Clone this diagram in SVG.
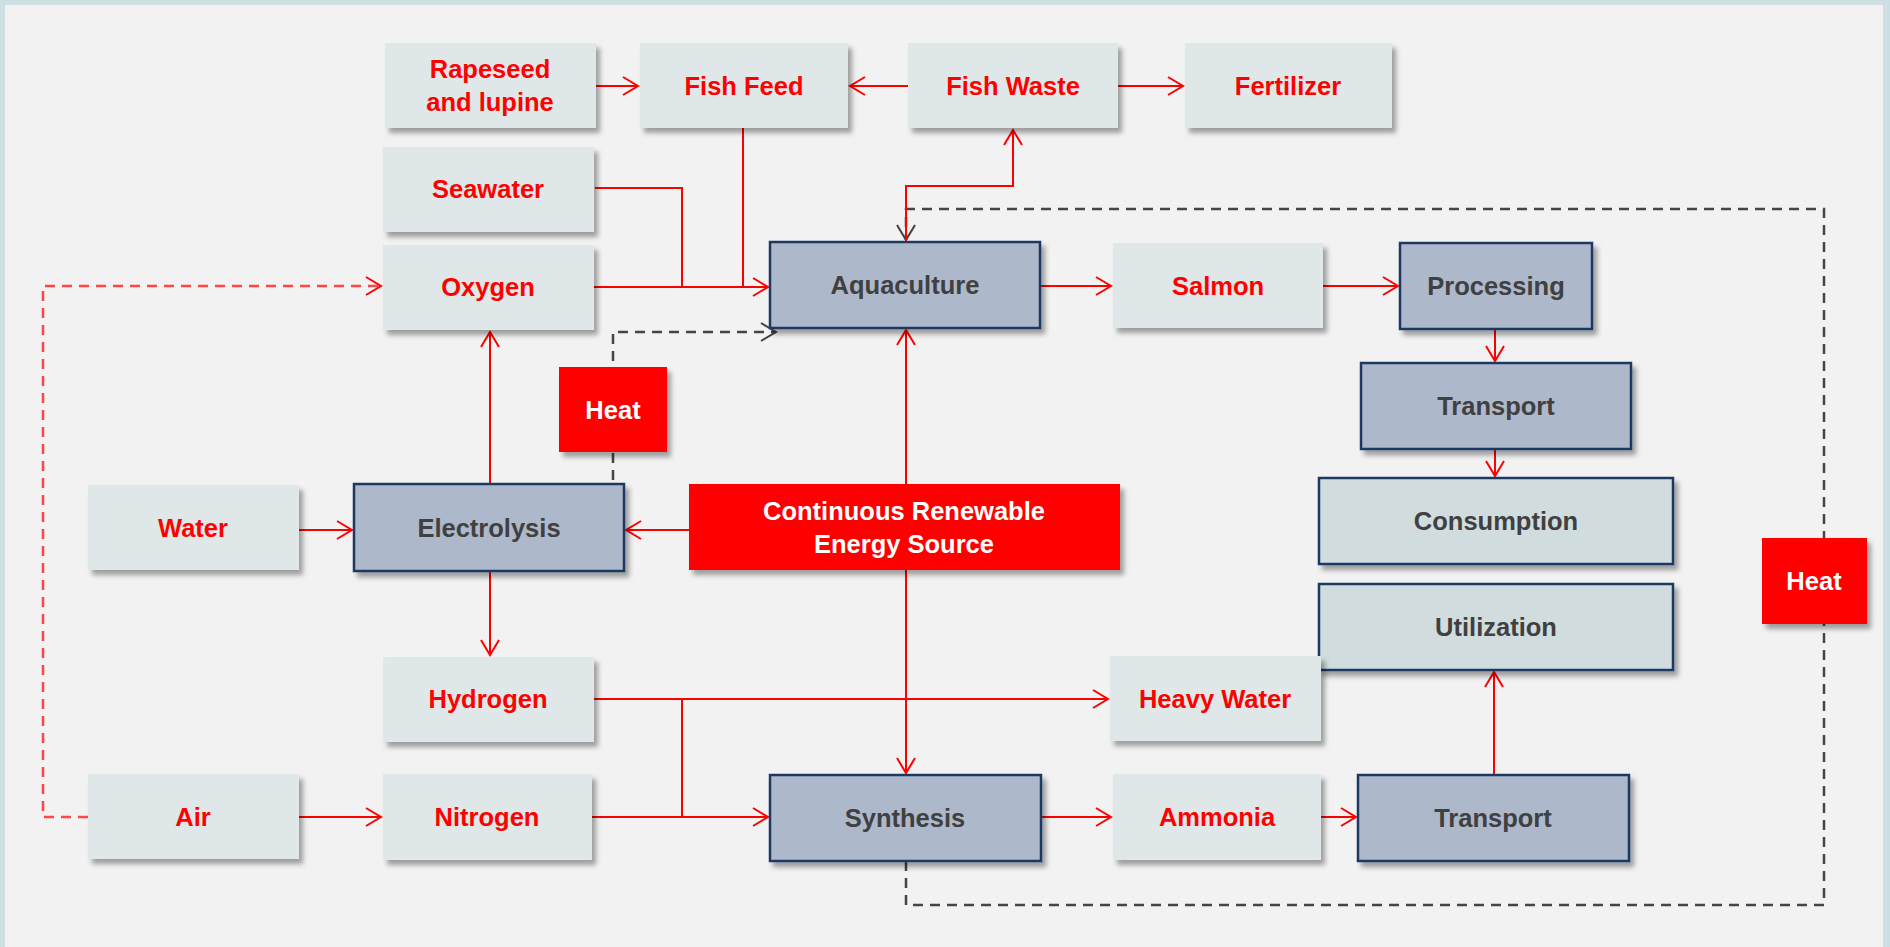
<svg xmlns="http://www.w3.org/2000/svg" width="1890" height="947" viewBox="0 0 1890 947">
<defs>
<style>
.bg{fill:#f2f2f2}
.band{fill:#cddfe2}
.lt{fill:#dfe7e8;filter:url(#sh)}
.dk{fill:#adb8cb;stroke:#1f3864;stroke-width:2.5;filter:url(#sh)}
.md{fill:#d1dcdf;stroke:#1f3864;stroke-width:2.5;filter:url(#sh)}
.rd{fill:#ff0000;filter:url(#sh)}
text{font-family:"Liberation Sans",Arial,sans-serif;font-weight:bold;font-size:25.5px;text-anchor:middle}
.tr{fill:#ff0000}
.td{fill:#404040}
.tw{fill:#ffffff}
.c{fill:none;stroke:#ff0000;stroke-width:2}
.ca{fill:none;stroke:#ff0000;stroke-width:2;marker-end:url(#ar)}
.rdash{fill:none;stroke:#ff4545;stroke-width:2.5;stroke-dasharray:10,7;marker-end:url(#ar)}
.kdash{fill:none;stroke:#454545;stroke-width:2.5;stroke-dasharray:10,7}
</style>
<filter id="sh" x="-10%" y="-10%" width="125%" height="135%">
<feDropShadow dx="4" dy="5" stdDeviation="2.5" flood-color="#000" flood-opacity="0.35"/>
</filter>
<marker id="ar" markerUnits="userSpaceOnUse" viewBox="-17 -11 19 22" refX="0" refY="0" markerWidth="19" markerHeight="22" orient="auto">
<path d="M-15,-9 L0,0 L-15,9" fill="none" stroke="#ff0000" stroke-width="2"/>
</marker>
<marker id="ak" markerUnits="userSpaceOnUse" viewBox="-17 -11 19 22" refX="0" refY="0" markerWidth="19" markerHeight="22" orient="auto">
<path d="M-15,-9 L0,0 L-15,9" fill="none" stroke="#404040" stroke-width="2"/>
</marker>
</defs>
<rect class="bg" x="0" y="0" width="1890" height="947"/>
<rect class="band" x="0" y="0" width="1890" height="5"/>
<rect class="band" x="0" y="0" width="5" height="947"/>
<rect class="band" x="1883" y="0" width="7" height="947"/>

<g id="connectors">
<path class="rdash" d="M88,817 H43 V286 H381"/>
<path class="kdash" d="M533,485 H613 V332 H776" marker-end="url(#ak)"/>
<path class="kdash" d="M906,861 V905 H1824 V209 H906 V240" marker-end="url(#ak)"/>
<path class="ca" d="M596,86 H638"/>
<path class="ca" d="M908,86 H850"/>
<path class="ca" d="M1118,86 H1183"/>
<path class="c" d="M595,188 H682 V287"/>
<path class="c" d="M743,128 V287"/>
<path class="ca" d="M594,287 H768"/>
<path class="ca" d="M906,242 V186 H1013 V130"/>
<path class="ca" d="M1040,286 H1111"/>
<path class="ca" d="M1323,286 H1398"/>
<path class="ca" d="M1495,329 V361"/>
<path class="ca" d="M1495,449 V476"/>
<path class="ca" d="M906,484 V330"/>
<path class="ca" d="M689,530 H626"/>
<path class="ca" d="M906,570 V773"/>
<path class="ca" d="M299,530 H352"/>
<path class="ca" d="M490,484 V332"/>
<path class="ca" d="M490,572 V655"/>
<path class="ca" d="M594,699 H1108"/>
<path class="c" d="M682,699 V817"/>
<path class="ca" d="M592,817 H768"/>
<path class="ca" d="M299,817 H381"/>
<path class="ca" d="M1041,817 H1111"/>
<path class="ca" d="M1321,817 H1356"/>
<path class="ca" d="M1494,775 V672"/>
</g>

<g id="rapeseed"><rect class="lt" x="385" y="43" width="211" height="85"/><text class="tr" x="490" y="78">Rapeseed</text><text class="tr" x="490" y="111">and lupine</text></g>
<g id="fishfeed"><rect class="lt" x="640" y="43" width="208" height="85"/><text class="tr" x="744" y="95">Fish Feed</text></g>
<g id="fishwaste"><rect class="lt" x="908" y="43" width="210" height="85"/><text class="tr" x="1013" y="95">Fish Waste</text></g>
<g id="fertilizer"><rect class="lt" x="1185" y="43" width="207" height="85"/><text class="tr" x="1288" y="95">Fertilizer</text></g>
<g id="seawater"><rect class="lt" x="383" y="147" width="211" height="85"/><text class="tr" x="488" y="198">Seawater</text></g>
<g id="oxygen"><rect class="lt" x="383" y="245" width="211" height="85"/><text class="tr" x="488" y="296">Oxygen</text></g>
<g id="aquaculture"><rect class="dk" x="770" y="242" width="270" height="86"/><text class="td" x="905" y="294">Aquaculture</text></g>
<g id="salmon"><rect class="lt" x="1113" y="243" width="210" height="85"/><text class="tr" x="1218" y="295">Salmon</text></g>
<g id="processing"><rect class="dk" x="1400" y="243" width="192" height="86"/><text class="td" x="1496" y="295">Processing</text></g>
<g id="transport1"><rect class="dk" x="1361" y="363" width="270" height="86"/><text class="td" x="1496" y="415">Transport</text></g>
<g id="consumption"><rect class="md" x="1319" y="478" width="354" height="86"/><text class="td" x="1496" y="530">Consumption</text></g>
<g id="utilization"><rect class="md" x="1319" y="584" width="354" height="86"/><text class="td" x="1496" y="636">Utilization</text></g>
<g id="heat-right"><rect class="rd" x="1762" y="538" width="105" height="86"/><text class="tw" x="1814" y="590">Heat</text></g>
<g id="heat-mid"><rect class="rd" x="559" y="367" width="108" height="85"/><text class="tw" x="613" y="419">Heat</text></g>
<g id="water"><rect class="lt" x="88" y="485" width="211" height="85"/><text class="tr" x="193" y="537">Water</text></g>
<g id="electrolysis"><rect class="dk" x="354" y="484" width="270" height="87"/><text class="td" x="489" y="537">Electrolysis</text></g>
<g id="cres"><rect class="rd" x="689" y="484" width="431" height="86"/><text class="tw" x="904" y="520">Continuous Renewable</text><text class="tw" x="904" y="553">Energy Source</text></g>
<g id="hydrogen"><rect class="lt" x="383" y="657" width="211" height="85"/><text class="tr" x="488" y="708">Hydrogen</text></g>
<g id="heavywater"><rect class="lt" x="1110" y="656" width="211" height="85"/><text class="tr" x="1215" y="708">Heavy Water</text></g>
<g id="air"><rect class="lt" x="88" y="774" width="211" height="85"/><text class="tr" x="193" y="826">Air</text></g>
<g id="nitrogen"><rect class="lt" x="383" y="774" width="209" height="86"/><text class="tr" x="487" y="826">Nitrogen</text></g>
<g id="synthesis"><rect class="dk" x="770" y="775" width="271" height="86"/><text class="td" x="905" y="827">Synthesis</text></g>
<g id="ammonia"><rect class="lt" x="1113" y="774" width="208" height="86"/><text class="tr" x="1217" y="826">Ammonia</text></g>
<g id="transport2"><rect class="dk" x="1358" y="775" width="271" height="86"/><text class="td" x="1493" y="827">Transport</text></g>
</svg>
